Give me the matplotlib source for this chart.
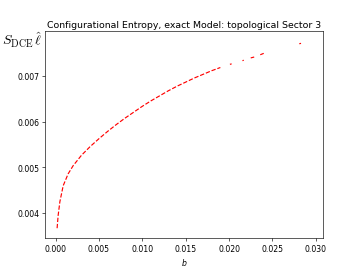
import numpy as np
import matplotlib
matplotlib.use("Agg")
import matplotlib.pyplot as plt

# values (NaN = break in the curve)
b_vals = [0.00018, 0.0003, 0.0005, 0.00088, 0.00145, 0.00203, 0.0030, 0.0040,
          0.0050, 0.0060, 0.0070, 0.0080, 0.0090, 0.0100, 0.0110, 0.0120,
          0.0130, 0.0140, 0.0150, 0.0160, 0.0170, 0.0180, 0.0190,
          np.nan, 0.0201, 0.0203,
          np.nan, 0.02155, 0.0217,
          np.nan, 0.0225, 0.0229,
          np.nan, 0.0236, 0.0240,
          np.nan, 0.0281, 0.0283]
s_vals = [0.00367, 0.00395, 0.00425, 0.00460, 0.00486, 0.00504, 0.00527, 0.00546,
          0.00563, 0.00579, 0.00594, 0.00608, 0.00621, 0.00634, 0.00646, 0.00657,
          0.00668, 0.00678, 0.00687, 0.00696, 0.00704, 0.00712, 0.00719,
          np.nan, 0.00726, 0.00727,
          np.nan, 0.00734, 0.00735,
          np.nan, 0.00740, 0.00742,
          np.nan, 0.00747, 0.00750,
          np.nan, 0.00771, 0.00772]

fig, ax = plt.subplots(figsize=(6.41, 4.8), dpi=56)
ax.plot(b_vals, s_vals, "r--")
ax.set_title("Configurational Entropy, exact Model: topological Sector 3")
ax.set_xlabel("$b$")
ax.set_ylabel(r"$S_{\rm DCE}\,\hat{\ell}$", rotation=0, fontsize=18,
              math_fontfamily="cm", ha="center", va="center")
ax.yaxis.set_label_coords(-0.08, 0.96)
ax.set_xlim(-0.00123, 0.03084)
ax.set_ylim(0.003446, 0.00798)
ax.set_xticks([0.0, 0.005, 0.010, 0.015, 0.020, 0.025, 0.030])
ax.set_yticks([0.004, 0.005, 0.006, 0.007])
fig.savefig("out.png")
